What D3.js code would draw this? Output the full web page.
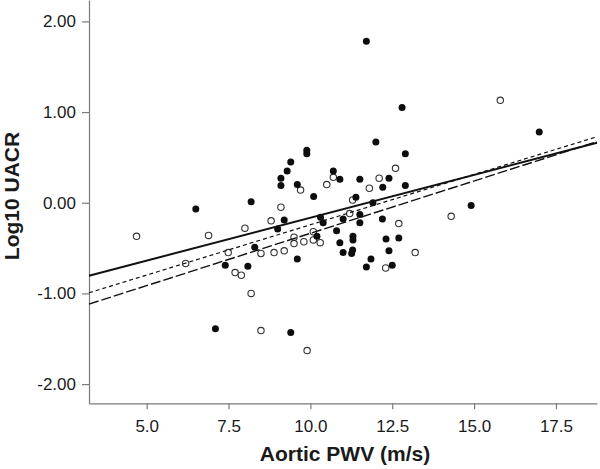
<!DOCTYPE html>
<html>
<head>
<meta charset="utf-8">
<script src="https://cdn.jsdelivr.net/npm/d3@7"></script>
<style>
  html, body { margin: 0; padding: 0; background: #fff; }
  svg { display: block; }
</style>
</head>
<body>
<svg id="chart" width="600" height="469"></svg>
<script>
// ---- data ----
// filled circles
const filledX = [11.71, 12.80, 16.99, 12.00, 12.90, 9.89, 9.89, 10.70, 10.90, 11.51,
  12.40, 12.21, 12.90, 10.10, 11.39, 11.91, 14.91, 11.51, 10.31, 10.39,
  11.00, 11.51, 12.20, 10.80, 10.20, 11.30, 11.30, 10.90, 12.31, 12.70,
  12.40, 11.00, 11.29, 11.26, 11.85, 11.71, 12.50, 9.40, 9.29, 9.10,
  9.10, 9.60, 9.20, 9.00, 8.30, 9.60, 6.50, 8.19, 7.40, 8.09,
  7.10, 9.40];
const filledY = [1.78, 1.05, 0.78, 0.67, 0.54, 0.58, 0.54, 0.35, 0.26, 0.26,
  0.27, 0.17, 0.19, 0.07, 0.06, 0.00, -0.03, -0.13, -0.16, -0.22,
  -0.18, -0.22, -0.18, -0.31, -0.37, -0.37, -0.41, -0.44, -0.40, -0.39,
  -0.53, -0.55, -0.52, -0.56, -0.62, -0.71, -0.69, 0.45, 0.35, 0.27,
  0.19, 0.20, -0.19, -0.29, -0.49, -0.62, -0.07, 0.01, -0.69, -0.70,
  -1.39, -1.43];
// open circles
const openX = [15.80, 12.60, 10.70, 12.10, 10.50, 11.80, 9.70, 11.29, 14.30, 11.20,
  12.70, 10.09, 9.80, 10.09, 10.30, 13.20, 12.30, 9.10, 8.80, 9.50,
  9.50, 8.00, 6.89, 4.69, 8.49, 8.89, 9.20, 7.49, 6.19, 7.70,
  7.89, 8.19, 8.49, 9.90];
const openY = [1.13, 0.38, 0.28, 0.27, 0.20, 0.16, 0.14, 0.03, -0.15, -0.12,
  -0.23, -0.32, -0.43, -0.41, -0.44, -0.55, -0.72, -0.05, -0.20, -0.38,
  -0.45, -0.28, -0.36, -0.37, -0.56, -0.55, -0.53, -0.55, -0.67, -0.77,
  -0.80, -1.00, -1.41, -1.63];
// fit lines: y = intercept + slope * x
const fitNames = ["all", "groupA", "groupB"];
const fitIntercepts = [-1.111, -1.352, -1.491];
const fitSlopes = [0.09455, 0.1109, 0.1154];
const fitDashes = ["none", "4,3", "10,3"];
const fitWidths = [2, 1.2, 1.4];

const xTicks = [5.0, 7.5, 10.0, 12.5, 15.0, 17.5];
const yTicks = [2.00, 1.00, 0.00, -1.00, -2.00];
const xDomain = [3.238, 18.754];
const yDomain = [-2.212, 2.236];

// ---- layout ----
const mLeft = 89, mRight = 597, mTop = 0, mBottom = 403.3;
const svg = d3.select("#chart");
const x = d3.scaleLinear().domain(xDomain).range([mLeft, mRight]);
const y = d3.scaleLinear().domain(yDomain).range([mBottom, mTop]);

const axisColor = "#7a7a7a";
const font = "'Liberation Sans', Arial, sans-serif";
const hyphenFmt = p => v => v.toFixed(p);

// axes
const gx = svg.append("g").attr("transform", `translate(0,${mBottom})`)
  .call(d3.axisBottom(x).tickValues(xTicks).tickFormat(hyphenFmt(1))
    .tickSize(6).tickSizeOuter(0).tickPadding(11));
const gy = svg.append("g").attr("transform", `translate(${mLeft},0)`)
  .call(d3.axisLeft(y).tickValues(yTicks).tickFormat(hyphenFmt(2))
    .tickSize(7).tickSizeOuter(0).tickPadding(6));
[gx, gy].forEach(g => {
  g.select(".domain").attr("stroke", axisColor).attr("stroke-width", 1.2);
  g.selectAll(".tick line").attr("stroke", axisColor).attr("stroke-width", 1.2);
  g.selectAll(".tick text").attr("fill", "#1a1a1a")
    .style("font-family", font).style("font-size", "17px");
});

// points
const ptsF = filledX.map((v, i) => [v, filledY[i]]);
const ptsO = openX.map((v, i) => [v, openY[i]]);
svg.append("g").selectAll("circle").data(ptsO).join("circle")
  .attr("cx", d => x(d[0])).attr("cy", d => y(d[1])).attr("r", 3.2)
  .attr("fill", "#fff").attr("stroke", "#333").attr("stroke-width", 1.1);
svg.append("g").selectAll("circle").data(ptsF).join("circle")
  .attr("cx", d => x(d[0])).attr("cy", d => y(d[1])).attr("r", 3.5)
  .attr("fill", "#0d0d0d");

// fit lines
svg.append("g").selectAll("line").data(fitNames).join("line")
  .attr("x1", x(xDomain[0])).attr("x2", x(xDomain[1]))
  .attr("y1", (d, i) => y(fitIntercepts[i] + fitSlopes[i] * xDomain[0]))
  .attr("y2", (d, i) => y(fitIntercepts[i] + fitSlopes[i] * xDomain[1]))
  .attr("stroke", "#111")
  .attr("stroke-width", (d, i) => fitWidths[i])
  .attr("stroke-dasharray", (d, i) => fitDashes[i]);

// titles
svg.append("text").attr("x", 345).attr("y", 461)
  .attr("text-anchor", "middle").attr("fill", "#1a1a1a")
  .style("font-family", font).style("font-size", "21px").style("font-weight", "bold")
  .text("Aortic PWV (m/s)");
svg.append("text").attr("transform", "translate(18.5,196) rotate(-90)")
  .attr("text-anchor", "middle").attr("fill", "#1a1a1a")
  .style("font-family", font).style("font-size", "21px").style("font-weight", "bold")
  .text("Log10 UACR");
</script>
</body>
</html>
